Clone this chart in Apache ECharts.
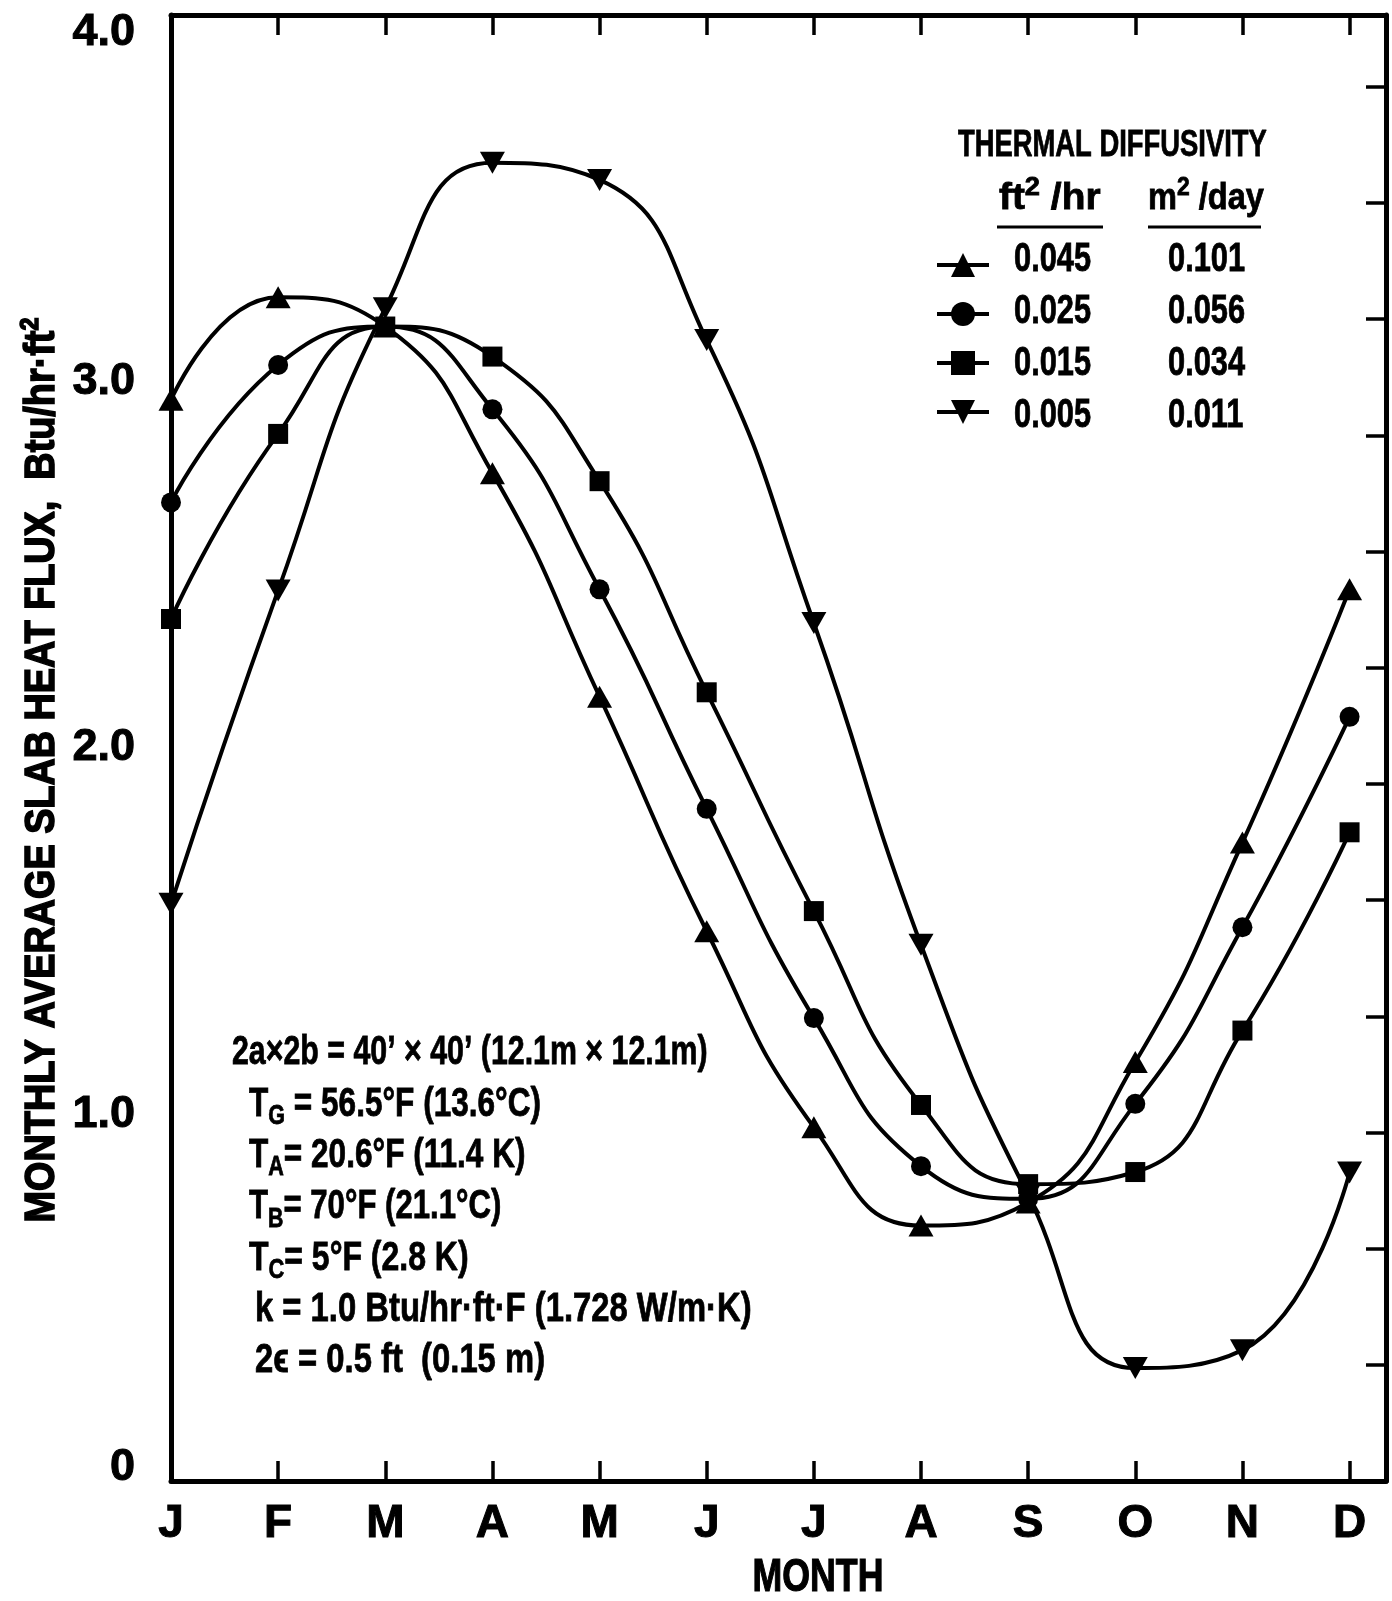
<!DOCTYPE html>
<html>
<head>
<meta charset="utf-8">
<style>
  html, body { margin: 0; padding: 0; background: #fff; }
  #chart { width: 1392px; height: 1601px; }
</style>
<script src="https://cdn.jsdelivr.net/npm/echarts@6/dist/echarts.min.js"></script>
</head>
<body>
<div id="chart"></div>
<script>
// Month initials along the bottom axis
const months = ['J', 'F', 'M', 'A', 'M', 'J', 'J', 'A', 'S', 'O', 'N', 'D'];

// Thermal diffusivity of the soil, in both unit systems
const diffusivityFt2hr = ['0.045', '0.025', '0.015', '0.005'];
const diffusivityM2day = ['0.101', '0.056', '0.034', '0.011'];

// Monthly average slab heat flux, Btu/hr·ft², one list per diffusivity
const flux045 = [2.95, 3.23, 3.15, 2.75, 2.14, 1.50, 0.965, 0.697, 0.76, 1.143, 1.742, 2.433];
const flux025 = [2.67, 3.045, 3.15, 2.924, 2.433, 1.834, 1.263, 0.859, 0.77, 1.029, 1.511, 2.085];
const flux015 = [2.352, 2.857, 3.15, 3.068, 2.728, 2.152, 1.555, 1.026, 0.81, 0.843, 1.229, 1.77];
const flux005 = [1.575, 2.43, 3.20, 3.597, 3.55, 3.113, 2.341, 1.463, 0.78, 0.308, 0.357, 0.842];

// Design conditions printed inside the plot
const conditionLines = [
  '2a×2b = 40’ × 40’ (12.1m × 12.1m)',
  'T{sub|G} = 56.5°F (13.6°C)',
  'T{sub|A}= 20.6°F (11.4 K)',
  'T{sub|B}= 70°F (21.1°C)',
  'T{sub|C}= 5°F (2.8 K)',
  'k = 1.0 Btu/hr·ft·F (1.728 W/m·K)',
  '2ϵ = 0.5 ft  (0.15 m)'
];

const fluxSeries = [flux045, flux025, flux015, flux005];
const markerShapes = ['triangle', 'circle', 'rect', 'triangle'];
const markerRotations = [0, 0, 0, 180];
const markerSizes = [[25, 22], 20, 20, [25, 22]];

// 1 Btu/hr·ft² = 3.1546 W/m²; the right-hand ticks mark whole W/m²
const BTU_TO_WM2 = 3.1546;
const Y_MAX = 4;
const X_MAX = 11.34;

const FONT = '"Liberation Sans", Arimo, Arial, sans-serif';
const INK = '#000';

const chart = echarts.init(document.getElementById('chart'), null, { renderer: 'canvas' });

const series = fluxSeries.map((vals, i) => ({
  name: diffusivityFt2hr[i],
  type: 'line',
  xAxisIndex: 0,
  yAxisIndex: 0,
  data: vals.map((v, k) => [k, v]),
  smooth: 0.5,
  clip: false,
  symbol: markerShapes[i],
  symbolRotate: markerRotations[i],
  symbolSize: markerSizes[i],
  showAllSymbol: true,
  lineStyle: { color: INK, width: 4 },
  itemStyle: { color: INK, borderWidth: 0 },
  emphasis: { disabled: true },
  z: 3
}));

// Condensed-looking heavy text: a bold face squeezed horizontally
function label(x, y, text, size, opts) {
  opts = opts || {};
  return {
    type: 'text',
    x: x,
    y: y,
    scaleX: opts.scaleX || 1,
    rotation: opts.rotation || 0,
    silent: true,
    z: 10,
    style: {
      text: text,
      fontFamily: FONT,
      fontWeight: 'bold',
      fontSize: size,
      fill: INK,
      stroke: INK,
      lineWidth: opts.weight || 0.8,
      align: opts.align || 'left',
      verticalAlign: 'middle',
      rich: opts.rich || {}
    }
  };
}

const subRich = {
  sub: { fontFamily: FONT, fontWeight: 'bold', fontSize: 28, fill: INK, padding: [24, 0, 0, 0] }
};
const supRich = {
  sup: { fontFamily: FONT, fontWeight: 'bold', fontSize: 26, fill: INK, padding: [0, 0, 22, 0] }
};

const conditionX = [232, 249, 249, 249, 249, 255, 255];
const conditionSqueeze = [0.74, 0.77, 0.77, 0.76, 0.78, 0.8, 0.8];
const conditionY0 = 1053;
const conditionStep = 51.3;

const legendRowY0 = 260;
const legendStep = 52;

const graphics = [
  label(958, 146, 'THERMAL DIFFUSIVITY', 37, { scaleX: 0.74 }),
  label(999, 199, 'ft{sup|2} /hr', 37, { scaleX: 1.05, rich: supRich }),
  label(1148, 199, 'm{sup|2} /day', 37, { scaleX: 0.88, rich: supRich }),
  { type: 'line', silent: true, shape: { x1: 997, y1: 227, x2: 1103, y2: 227 }, style: { stroke: INK, lineWidth: 3 } },
  { type: 'line', silent: true, shape: { x1: 1148, y1: 227, x2: 1261, y2: 227 }, style: { stroke: INK, lineWidth: 3 } },
  // axis titles
  label(42, 770, 'MONTHLY AVERAGE SLAB HEAT FLUX,  Btu/hr·ft{sup|2}', 42,
        { scaleX: 0.9, rotation: Math.PI / 2, align: 'center', rich: supRich, weight: 1.6 }),
  label(818, 1578, 'MONTH', 47, { scaleX: 0.76, align: 'center', weight: 1.2 })
]
  .concat(diffusivityFt2hr.map((v, i) => label(1014, legendRowY0 + legendStep * i, v, 40, { scaleX: 0.77 })))
  .concat(diffusivityM2day.map((v, i) => label(1168, legendRowY0 + legendStep * i, v, 40, { scaleX: 0.77 })))
  .concat(conditionLines.map((t, i) => label(conditionX[i], conditionY0 + conditionStep * i, t, 41,
        { scaleX: conditionSqueeze[i], rich: subRich })));

function frameLine() {
  return { show: true, onZero: false, lineStyle: { color: INK, width: 5 } };
}
function innerTick() {
  return { show: true, inside: true, length: 20, lineStyle: { color: INK, width: 3.5 } };
}

const option = {
  backgroundColor: '#fff',
  animation: false,
  grid: {
    left: 171, right: 6, top: 15, bottom: 120,
    containLabel: false, outerBoundsMode: 'none'
  },
  legend: {
    show: true,
    orient: 'vertical',
    left: 930,
    top: legendRowY0 - 15,
    itemWidth: 52,
    itemHeight: 30,
    itemGap: 22,
    selectedMode: false,
    data: diffusivityFt2hr,
    formatter: () => '',
    lineStyle: { width: 4, color: INK },
    textStyle: { fontSize: 12, color: INK }
  },
  xAxis: [
    {
      type: 'value',
      position: 'bottom',
      min: 0,
      max: X_MAX,
      interval: 1,
      splitLine: { show: false },
      axisLine: frameLine(),
      axisTick: innerTick(),
      axisLabel: {
        show: true,
        margin: 20,
        color: INK,
        fontFamily: FONT,
        fontWeight: 'bold',
        fontSize: 46,
        textBorderColor: INK,
        textBorderWidth: 1,
        showMaxLabel: false,
        hideOverlap: false,
        formatter: v => (Number.isInteger(v) && months[v] !== undefined) ? months[v] : ''
      }
    },
    {
      type: 'value',
      position: 'top',
      min: 0,
      max: X_MAX,
      interval: 1,
      splitLine: { show: false },
      axisLine: frameLine(),
      axisTick: innerTick(),
      axisLabel: { show: false }
    }
  ],
  yAxis: [
    {
      type: 'value',
      position: 'left',
      min: 0,
      max: Y_MAX,
      interval: 1,
      splitLine: { show: false },
      axisLine: frameLine(),
      axisTick: { show: false },
      axisLabel: {
        show: true,
        margin: 36,
        color: INK,
        fontFamily: FONT,
        fontWeight: 'bold',
        fontSize: 45,
        hideOverlap: false,
        formatter: v => v === 0 ? '{lo|0}' : (v === Y_MAX ? '{hi|4.0}' : v.toFixed(1)),
        rich: {
          lo: { fontFamily: FONT, fontWeight: 'bold', fontSize: 45, color: INK, textBorderColor: INK, textBorderWidth: 1, padding: [0, 0, 26, 0] },
          hi: { fontFamily: FONT, fontWeight: 'bold', fontSize: 45, color: INK, textBorderColor: INK, textBorderWidth: 1, padding: [36, 0, 0, 0] }
        },
        textBorderColor: INK,
        textBorderWidth: 1
      }
    },
    {
      type: 'value',
      position: 'right',
      min: 0,
      max: Y_MAX * BTU_TO_WM2,
      interval: 1,
      splitLine: { show: false },
      axisLine: frameLine(),
      axisTick: innerTick(),
      axisLabel: { show: false }
    }
  ],
  graphic: graphics,
  series: series
};

chart.setOption(option);
</script>
</body>
</html>
